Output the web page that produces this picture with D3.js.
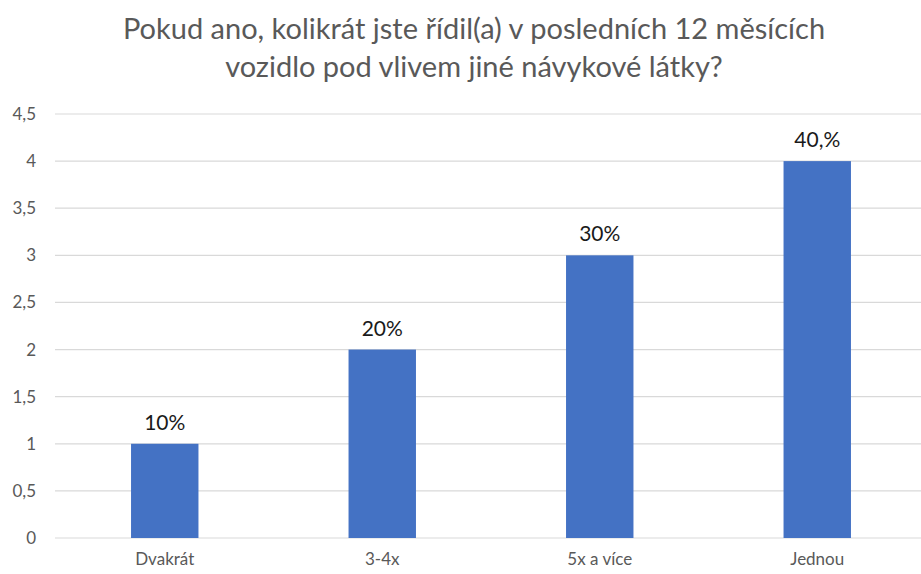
<!DOCTYPE html>
<html><head><meta charset="utf-8">
<script src="https://cdn.jsdelivr.net/npm/d3@7"></script>
<style>body{margin:0;background:#fff}svg{display:block}</style>
</head><body>
<script>
const categories = ["Dvakrát", "3-4x", "5x a více", "Jednou"];
const values = [1, 2, 3, 4];
const valueLabels = ["10%", "20%", "30%", "40,%"];
const yTicks = [0, 0.5, 1, 1.5, 2, 2.5, 3, 3.5, 4, 4.5];
const titleLines = ["Pokud ano, kolikrát jste řídil(a) v posledních 12 měsících", "vozidlo pod vlivem jiné návykové látky?"];

const W = 921, H = 574;
const svg = d3.select("body").append("svg").attr("width", W).attr("height", H);
const font = "Lato, 'Open Sans', sans-serif";

const x = d3.scaleBand().domain(categories).range([56, 926]).paddingInner(0.69).paddingOuter(0.345);
const y = d3.scaleLinear().domain([0, 4.5]).range([538, 114]);

// gridlines
svg.append("g").selectAll("line").data(yTicks).join("line")
  .attr("x1", 55).attr("x2", W).attr("y1", d => y(d)).attr("y2", d => y(d))
  .attr("stroke", "#d9d9d9").attr("stroke-width", 1.2);

// y labels
const fmt = d => String(d).replace(".", ",");
svg.append("g").selectAll("text").data(yTicks).join("text")
  .attr("x", 36).attr("y", d => y(d)).attr("dy", "0.35em").attr("text-anchor", "end")
  .attr("font-family", font).attr("font-size", 17).attr("fill", "#595959").text(fmt);

// bars
svg.append("g").selectAll("rect").data(values).join("rect")
  .attr("x", (d, i) => x(categories[i])).attr("width", x.bandwidth())
  .attr("y", d => y(d)).attr("height", d => y(0) - y(d))
  .attr("fill", "#4472c4");

// value labels
svg.append("g").selectAll("text").data(values).join("text")
  .attr("x", (d, i) => x(categories[i]) + x.bandwidth() / 2).attr("y", d => y(d) - 14)
  .attr("text-anchor", "middle").attr("font-family", font).attr("font-size", 21)
  .attr("fill", "#1a1a1a").text((d, i) => valueLabels[i]);

// category labels
svg.append("g").selectAll("text").data(categories).join("text")
  .attr("x", d => x(d) + x.bandwidth() / 2).attr("y", 565)
  .attr("text-anchor", "middle").attr("font-family", font).attr("font-size", 17)
  .attr("fill", "#595959").text(d => d);

// title
svg.append("g").selectAll("text").data(titleLines).join("text")
  .attr("x", 474).attr("y", (d, i) => 39 + i * 38)
  .attr("text-anchor", "middle").attr("font-family", font).attr("font-size", 29)
  .attr("fill", "#595959").text(d => d);
</script>
</body></html>
